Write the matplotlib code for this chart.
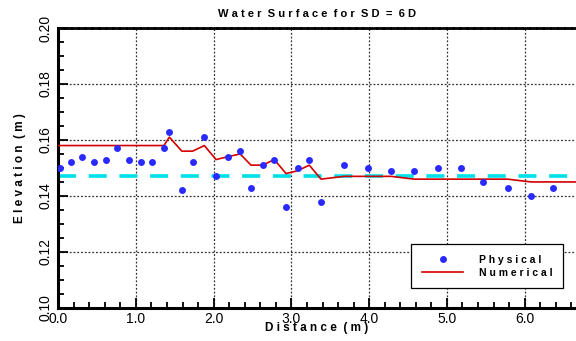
import numpy as np
import matplotlib.pyplot as plt

plt.rcParams['font.family'] = ['Liberation Sans', 'DejaVu Sans']

# physical measurements
phys_x = [0.02, 0.16, 0.31, 0.46, 0.61, 0.76, 0.91, 1.06, 1.21, 1.36, 1.43, 1.59,
          1.73, 1.88, 2.03, 2.18, 2.34, 2.48, 2.63, 2.78, 2.93, 3.08, 3.23, 3.38,
          3.68, 3.98, 4.28, 4.58, 4.88, 5.18, 5.47, 5.78, 6.08, 6.37]
phys_y = [0.150, 0.152, 0.154, 0.152, 0.153, 0.157, 0.153, 0.152, 0.152, 0.157,
          0.163, 0.142, 0.152, 0.161, 0.147, 0.154, 0.156, 0.143, 0.151, 0.153,
          0.136, 0.150, 0.153, 0.138, 0.151, 0.150, 0.149, 0.149, 0.150, 0.150,
          0.145, 0.143, 0.140, 0.143]

# numerical model
num_x = [0.0, 1.36, 1.43, 1.59, 1.73, 1.88, 2.03, 2.18, 2.34, 2.48, 2.63, 2.78,
         2.93, 3.08, 3.23, 3.38, 3.68, 3.98, 4.28, 4.58, 5.78, 6.08, 6.7]
num_y = [0.158, 0.158, 0.161, 0.156, 0.156, 0.158, 0.153, 0.154, 0.155, 0.151,
         0.151, 0.153, 0.148, 0.149, 0.151, 0.146, 0.147, 0.147, 0.147, 0.146,
         0.146, 0.145, 0.145]

ref_level = 0.147

fig = plt.figure(figsize=(5.76, 3.41), dpi=100)
ax = fig.add_axes([0.101, 0.097, 0.899, 0.821])

ax.axhline(ref_level, color='#00e0e8', lw=2.6, dashes=(5, 3.5), zorder=2)
ax.plot(num_x, num_y, color='#d40000', lw=1.2, label='Numerical', zorder=3)
ax.plot(phys_x, phys_y, 'o', color='#2a2aff', ms=5, mec='none',
        label='Physical', zorder=4)

ax.set_xlim(0, 6.66)
ax.set_ylim(0.10, 0.20)
ax.set_xticks(np.arange(0, 7, 1.0))
ax.set_xticklabels(['0.0', '1.0', '2.0', '3.0', '4.0', '5.0', '6.0'])
ax.set_xticks(np.arange(0, 6.7, 0.2), minor=True)
ax.set_yticks(np.arange(0.10, 0.201, 0.02))
ax.set_yticklabels(['0.10', '0.12', '0.14', '0.16', '0.18', '0.20'],
                   rotation=90, va='center')
ax.set_yticks(np.arange(0.10, 0.201, 0.005), minor=True)

ax.tick_params(which='both', direction='in', width=1.3, labelsize=10)
ax.tick_params(which='major', length=7)
ax.tick_params(which='minor', length=4)
ax.tick_params(axis='x', pad=3)
ax.tick_params(axis='y', pad=4)

ax.grid(True, which='major', color='#333333', ls=(0, (1.5, 1.5)), lw=0.9)

ax.spines['left'].set_linewidth(2.2)
ax.spines['bottom'].set_linewidth(2.2)
ax.spines['top'].set_linewidth(2.0)
ax.spines['top'].set_linestyle((0, (2, 0.5)))
ax.spines['right'].set_visible(False)

ax.set_title('W a t e r  S u r f a c e  f o r  S D  =  6 D', fontsize=8,
             fontweight='bold', pad=8)
ax.set_xlabel('D i s t a n c e  ( m )', fontsize=8.5, fontweight='bold',
              labelpad=-3)
ax.set_ylabel('E l e v a t i o n  ( m )', fontsize=8.5, fontweight='bold',
              labelpad=9)

handles, labels = ax.get_legend_handles_labels()
leg = ax.legend(handles[::-1], ['P h y s i c a l', 'N u m e r i c a l'],
                loc='lower right', bbox_to_anchor=(0.975, 0.07),
                fancybox=False, edgecolor='black', framealpha=1,
                prop={'weight': 'bold', 'size': 7.5}, handlelength=4,
                borderpad=1.0, labelspacing=0.3, handletextpad=1.5,
                borderaxespad=0)
leg.get_frame().set_linewidth(0.9)

fig.savefig('out.png', dpi=100)
